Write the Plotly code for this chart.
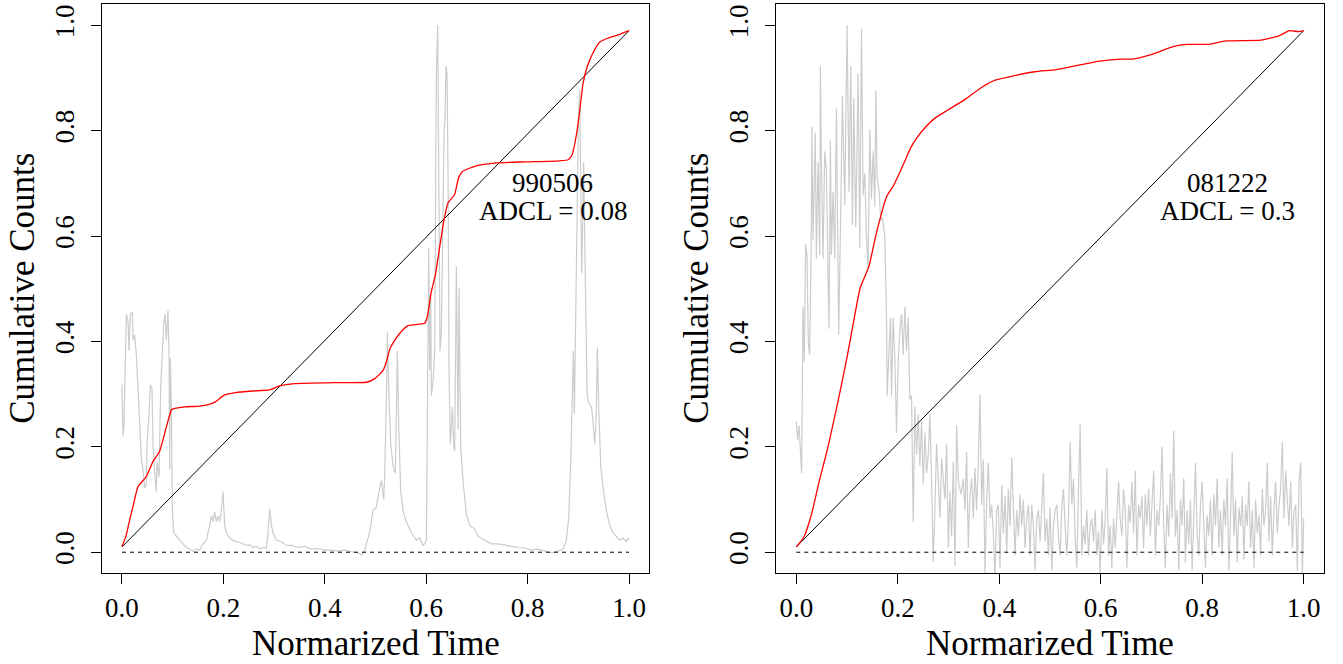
import plotly.graph_objects as go

# ---------------- data ----------------
TICK_VALS = [0.0, 0.2, 0.4, 0.6, 0.8, 1.0]
TICK_LABELS = ["0.0", "0.2", "0.4", "0.6", "0.8", "1.0"]

# Panel 1 : 990506 -- normalized light curve (gray)
lc1_t = [0.000, 0.002, 0.004, 0.0086, 0.0119, 0.0139, 0.0165, 0.0205, 0.0218, 0.025, 0.0283,
         0.0316, 0.0349, 0.0382, 0.0415, 0.0448, 0.0481, 0.0494, 0.0533, 0.056, 0.0592, 0.0612,
         0.0645, 0.0678, 0.0691, 0.073, 0.0763, 0.0796, 0.0822, 0.0849, 0.0875, 0.0908, 0.0928,
         0.0941, 0.0954, 0.0974, 0.0993, 0.102, 0.1072, 0.1138, 0.1204, 0.127, 0.1335, 0.1401,
         0.1467, 0.1533, 0.1598, 0.1664, 0.173, 0.1763, 0.1795, 0.1828, 0.1861, 0.1894, 0.1927,
         0.196, 0.1993, 0.2026, 0.2059, 0.2124, 0.219, 0.2256, 0.2322, 0.2387, 0.2453, 0.2519,
         0.2585, 0.2651, 0.2716, 0.2782, 0.2848, 0.2881, 0.2914, 0.2947, 0.298, 0.3045, 0.3144,
         0.3242,
         0.334, 0.3472, 0.3603, 0.3735, 0.3866, 0.3998, 0.4129, 0.4261, 0.4392, 0.4524, 0.4655,
         0.4721, 0.4787, 0.482, 0.4885, 0.4951, 0.5017, 0.5083, 0.5116, 0.5162, 0.5182, 0.5215,
         0.5234, 0.5261, 0.53, 0.5346, 0.5392, 0.5432, 0.5458, 0.5497, 0.5543, 0.5609, 0.5708,
         0.5807, 0.5872, 0.5938, 0.5971, 0.6004, 0.6024, 0.605, 0.6069, 0.6089, 0.6102, 0.6135,
         0.6168, 0.62, 0.6227, 0.6246, 0.6273, 0.6299, 0.6332, 0.6352, 0.6371, 0.6391, 0.6411,
         0.6431, 0.645, 0.6477, 0.6516, 0.6543, 0.6562, 0.6595, 0.6628, 0.6648, 0.668, 0.6726,
         0.6792, 0.6858,
         0.6956, 0.7022, 0.7153, 0.7285, 0.7416, 0.7548, 0.7679, 0.7811, 0.7942, 0.8074, 0.8205,
         0.8337, 0.8468, 0.86, 0.8699, 0.8765, 0.8811, 0.885, 0.8876, 0.8903, 0.8922, 0.8949,
         0.8975, 0.9001, 0.9027, 0.9047, 0.9067, 0.9087, 0.9106, 0.9126, 0.9146, 0.9172, 0.9205,
         0.9258, 0.9291, 0.9323, 0.935, 0.9376, 0.9402, 0.9442, 0.9488, 0.9554, 0.9619, 0.9685,
         0.9751, 0.9817, 0.9882, 0.9948, 0.9981, 1.0]
lc1_v = [0.318, 0.22, 0.241, 0.452, 0.438, 0.382, 0.452, 0.455, 0.403, 0.413, 0.375,
         0.311, 0.241, 0.178, 0.157, 0.122, 0.129, 0.206, 0.262, 0.318, 0.311, 0.206,
         0.15, 0.115, 0.171, 0.143, 0.311, 0.389, 0.431, 0.452, 0.403, 0.459, 0.375,
         0.157, 0.368, 0.276, 0.079, 0.037, 0.03, 0.023, 0.016, 0.009, 0.006, 0.002,
         0.006, 0.004, 0.016, 0.023, 0.051, 0.069, 0.058, 0.076, 0.058, 0.069, 0.058,
         0.079, 0.115, 0.051, 0.037, 0.027, 0.023, 0.02, 0.019, 0.016, 0.013, 0.014,
         0.009, 0.011, 0.006, 0.009, 0.008, 0.037, 0.083, 0.051, 0.037, 0.023, 0.02,
         0.013,
         0.013, 0.009, 0.011, 0.006, 0.007, 0.004, 0.004, 0.002, 0.004, 0.001, -0.001,
         -0.005, 0.002, 0.016, 0.037, 0.079, 0.086, 0.122, 0.136, 0.1, 0.15, 0.29,
         0.417, 0.311, 0.206, 0.164, 0.15, 0.382, 0.241, 0.115, 0.079, 0.058, 0.037,
         0.023, 0.027, 0.013, 0.016, 0.023, 0.276, 0.578, 0.346, 0.487, 0.297, 0.325,
         0.382, 0.909, 1.0, 0.782, 0.382, 0.417, 0.656, 0.796, 0.824, 0.923, 0.909,
         0.712, 0.346, 0.206, 0.276, 0.199, 0.192, 0.543, 0.234, 0.501, 0.199, 0.136,
         0.072, 0.051,
         0.044, 0.03, 0.023, 0.016, 0.016, 0.013, 0.011, 0.009, 0.008, 0.004, 0.006,
         0.002, -0.001, 0.002, 0.006, 0.023, 0.065, 0.171, 0.276, 0.382, 0.262, 0.487,
         0.684, 0.817, 0.877, 0.733, 0.529, 0.628, 0.74, 0.599, 0.417, 0.304, 0.283,
         0.276, 0.248, 0.206, 0.248, 0.389, 0.276, 0.164, 0.122, 0.079, 0.051, 0.037,
         0.03, 0.023, 0.027, 0.02, 0.027, 0.023]

# Panel 1 : cumulative counts (red)
cum1_t = [0.0, 0.0083, 0.015, 0.0217, 0.0316, 0.048, 0.061, 0.074, 0.0876, 0.0974, 0.101,
          0.124, 0.149, 0.17, 0.183, 0.2026, 0.224, 0.257, 0.29, 0.311, 0.34, 0.423, 0.482,
          0.498, 0.515, 0.521, 0.528, 0.535, 0.548, 0.564, 0.597, 0.602, 0.61, 0.618, 0.627,
          0.635, 0.643, 0.656, 0.664, 0.672, 0.697, 0.739, 0.797, 0.863, 0.88, 0.888, 0.896,
          0.903, 0.909, 0.917, 0.929, 0.942, 0.959, 0.979, 1.0]
cum1_v = [0.0104, 0.032, 0.061, 0.0866, 0.1245, 0.1435, 0.172, 0.191, 0.238, 0.27, 0.272,
          0.276, 0.277, 0.28, 0.285, 0.2985, 0.303, 0.306, 0.308, 0.3156, 0.32, 0.322, 0.3226,
          0.329, 0.345, 0.36, 0.385, 0.398, 0.4156, 0.43, 0.4345, 0.446, 0.494, 0.526, 0.582,
          0.63, 0.663, 0.679, 0.711, 0.723, 0.733, 0.739, 0.741, 0.743, 0.745, 0.755, 0.791,
          0.839, 0.888, 0.92, 0.948, 0.968, 0.976, 0.982, 0.99]

# Panel 2 : 081222 -- normalized light curve (gray)
lc2_t = [0.0, 0.0026, 0.0053, 0.0079, 0.0105, 0.0132, 0.0158, 0.0184, 0.0211, 0.0237, 0.0263,
         0.029, 0.0309, 0.0329, 0.0356, 0.0375, 0.0395, 0.0428, 0.0461, 0.0474, 0.0494, 0.0527,
         0.056, 0.0593, 0.0625, 0.0645, 0.0672, 0.0691, 0.0724, 0.0757, 0.079, 0.0836, 0.0869,
         0.0909, 0.0955, 0.1001, 0.104, 0.1073, 0.1106, 0.1132, 0.1172, 0.1218, 0.1251, 0.1284,
         0.1317, 0.135, 0.1383, 0.1415, 0.1448, 0.1481, 0.1514, 0.1547, 0.1567, 0.1593, 0.1633,
         0.1666, 0.1699, 0.1745, 0.1778, 0.1791, 0.183, 0.1857, 0.1876, 0.1909, 0.1942, 0.1975,
         0.2008, 0.2041, 0.2074, 0.2107, 0.214, 0.2173, 0.2206, 0.2238, 0.2271, 0.2304, 0.2337,
         0.237, 0.2403, 0.2436, 0.2469, 0.2502, 0.2535, 0.2568, 0.2601, 0.2633, 0.2666, 0.2699,
         0.2732, 0.2765, 0.2798, 0.2831, 0.2864, 0.2897, 0.293, 0.2963, 0.2996, 0.3028, 0.3061,
         0.3094, 0.3127, 0.316, 0.3193,
         0.3246, 0.3291, 0.3324, 0.3357, 0.339, 0.3423, 0.3456, 0.3489, 0.3521, 0.3554, 0.3587,
         0.362, 0.3653, 0.3686, 0.3719, 0.3752, 0.3785, 0.3818, 0.385, 0.3883, 0.3916, 0.3949,
         0.3982, 0.4015, 0.4048, 0.4081, 0.4114, 0.4147, 0.4179, 0.4212, 0.4245, 0.4278, 0.4311,
         0.4344, 0.4377, 0.441, 0.4443, 0.4476, 0.4508, 0.4541, 0.4574, 0.4607, 0.464, 0.4673,
         0.4706, 0.4739, 0.4772, 0.4805, 0.4837, 0.487, 0.4903, 0.4936, 0.4969, 0.5002, 0.5035,
         0.5068, 0.5101, 0.5134, 0.5166, 0.5199, 0.5232, 0.5265, 0.5298, 0.5331, 0.5364, 0.5397,
         0.543, 0.5463, 0.5495, 0.5528, 0.5561, 0.5594, 0.5627, 0.566, 0.5693, 0.5726, 0.5759,
         0.5792, 0.5824, 0.5857, 0.589, 0.5923, 0.5956, 0.5989, 0.6022, 0.6055, 0.6088, 0.6121,
         0.6153, 0.6186, 0.6219, 0.6252, 0.6285, 0.6318, 0.6351, 0.6384, 0.6417, 0.645, 0.6482,
         0.6515, 0.6548, 0.6581, 0.6614, 0.6647, 0.668, 0.6713, 0.6746, 0.6779, 0.6811, 0.6844,
         0.6877, 0.691, 0.6943, 0.6977, 0.701,
         0.7044, 0.7077, 0.711, 0.7143, 0.7176, 0.7209, 0.7241, 0.7274, 0.7307, 0.734, 0.7373,
         0.7406, 0.7439, 0.7472, 0.7505, 0.7538, 0.7571, 0.7604, 0.7636, 0.7669, 0.7702, 0.7735,
         0.7768, 0.7801, 0.7834, 0.7867, 0.79, 0.7933, 0.7966, 0.7999, 0.8031, 0.8064, 0.8097,
         0.813, 0.8163, 0.8196, 0.8229, 0.8262, 0.8295, 0.8328, 0.8361, 0.8394, 0.8426, 0.8459,
         0.8492, 0.8525, 0.8558, 0.8591, 0.8624, 0.8657, 0.869, 0.8723, 0.8756, 0.8789, 0.8821,
         0.8854, 0.8887, 0.892, 0.8953, 0.8986, 0.9019, 0.9052, 0.9085, 0.9118, 0.9151, 0.9184,
         0.9216, 0.9249, 0.9282, 0.9315, 0.9348, 0.9381, 0.9414, 0.9447, 0.948, 0.9513, 0.9546,
         0.9579, 0.9611, 0.9644, 0.9677, 0.971, 0.9743, 0.9776, 0.9809, 0.9842, 0.9875, 0.9908,
         0.9941, 0.9974, 1.0]
lc2_v = [0.248, 0.213, 0.241, 0.185, 0.15, 0.466, 0.361, 0.585, 0.564, 0.396, 0.375,
         0.557, 0.807, 0.592, 0.712, 0.796, 0.557, 0.74, 0.564, 0.923, 0.747, 0.557,
         0.761, 0.726, 0.529, 0.424, 0.782, 0.564, 0.684, 0.557, 0.842, 0.413, 0.606,
         0.866, 0.659, 1.0, 0.684, 0.923, 0.621, 0.863, 0.617, 0.909, 0.578, 0.993,
         0.677, 0.719, 0.599, 0.536, 0.803, 0.67, 0.761, 0.656, 0.877, 0.712, 0.684,
         0.628, 0.635, 0.599, 0.445, 0.297, 0.389, 0.445, 0.297, 0.445, 0.368, 0.227,
         0.361, 0.424, 0.452, 0.375, 0.466, 0.382, 0.445, 0.29, 0.297, 0.058, 0.276,
         0.185, 0.262, 0.164, 0.248, 0.129, 0.227, 0.15, 0.185, 0.262, 0.136, -0.019,
         0.086, 0.206, 0.136, 0.065, 0.178, 0.129, 0.1, 0.206, 0.009, 0.115, 0.03,
         0.171, -0.026, 0.241, 0.136,
         0.11, 0.14, 0.08, 0.19, 0.008, 0.11, 0.14, 0.064, 0.16, 0.08, 0.17,
         0.3, 0.09, 0.176, -0.04, 0.1, 0.17, 0.064, 0.09, 0.036, -0.05, 0.08,
         0.09, -0.03, 0.127, 0.036, 0.106, 0.0, 0.12, 0.05, 0.18, 0.064, -0.006,
         0.08, 0.03, 0.11, 0.05, 0.1, 0.008, 0.064, 0.09, -0.006, 0.09, 0.05,
         -0.035, 0.064, 0.08, 0.02, 0.09, 0.15, 0.02, 0.064, -0.006, 0.085, -0.035,
         0.05, 0.08, 0.09, 0.03, -0.006, 0.085, 0.12, 0.05, -0.006, 0.064, 0.21,
         0.09, 0.14, 0.03, -0.03, 0.12, 0.243, -0.006, 0.05, 0.015, 0.08, -0.006,
         0.05, 0.064, 0.02, 0.08, -0.006, 0.04, -0.04, 0.08, 0.015, 0.064, 0.16,
         -0.006, 0.05, -0.03, 0.064, 0.008, 0.08, 0.134, 0.064, 0.03, 0.12, 0.08,
         -0.03, 0.09, 0.056, 0.134, 0.036, 0.155, -0.006, 0.09, 0.064, 0.106, 0.008,
         0.11, 0.05, 0.12, 0.03, 0.09,
         0.155, -0.006, 0.08, 0.05, 0.106, 0.2, 0.05, -0.03, 0.09, 0.03, 0.15,
         0.064, 0.23, 0.03, 0.08, -0.035, 0.1, 0.05, 0.14, -0.02, 0.08, 0.015,
         0.1, -0.035, 0.064, 0.17, 0.03, -0.006, 0.09, 0.134, 0.05, -0.03, 0.07,
         0.03, 0.1, -0.006, 0.11, 0.05, 0.14, 0.008, 0.08, -0.006, 0.1, 0.05,
         0.14, -0.035, 0.064, 0.19, 0.03, 0.1, -0.02, 0.085, 0.05, 0.106, -0.014,
         0.09, 0.05, 0.134, 0.008, 0.08, -0.03, 0.1, 0.036, 0.07, -0.006, 0.12,
         0.05, 0.08, 0.17, 0.02, 0.106, -0.006, 0.08, 0.134, 0.036, 0.09, 0.12,
         0.21, 0.064, 0.155, 0.1, 0.05, 0.134, 0.008, 0.08, 0.09, -0.035, 0.134,
         0.17, -0.04, 0.064]

# Panel 2 : cumulative counts (red)
cum2_t = [0.0, 0.0146, 0.03, 0.0446, 0.0618, 0.083, 0.1, 0.113, 0.126, 0.143, 0.156, 0.169,
          0.178, 0.191, 0.203, 0.216, 0.225, 0.238, 0.255, 0.272, 0.298, 0.332, 0.3665, 0.392,
          0.427, 0.47, 0.5125, 0.555, 0.598, 0.641, 0.662, 0.701, 0.744, 0.77, 0.813, 0.847,
          0.916, 0.951, 0.972, 0.9897, 1.0]
cum2_v = [0.0104, 0.028, 0.072, 0.1325, 0.197, 0.29, 0.37, 0.438, 0.502, 0.542, 0.598, 0.647,
          0.675, 0.695, 0.719, 0.747, 0.767, 0.787, 0.807, 0.823, 0.839, 0.859, 0.883, 0.896,
          0.904, 0.912, 0.916, 0.924, 0.932, 0.936, 0.936, 0.945, 0.96, 0.964, 0.964, 0.9705,
          0.972, 0.98, 0.99, 0.988, 0.99]

# reference lines: uniform cumulative (diagonal) and zero level
diag_t = [0.0, 1.0]
diag_v = [0.01, 0.99]
zero_t = [0.0, 1.0]
zero_v = [0.0, 0.0]

burst_ids = ["990506", "081222"]
adcl_labels = ["ADCL = 0.08", "ADCL = 0.3"]
x_title = "Normarized Time"
y_title = "Cumulative Counts"

# ---------------- figure ----------------
W, H = 1343, 664
FONT = "Liberation Serif"
GRAY = "#cccccc"

fig = go.Figure()

panels = [
    ("x", "y", lc1_t, lc1_v, cum1_t, cum1_v),
    ("x2", "y2", lc2_t, lc2_v, cum2_t, cum2_v),
]
for xa, ya, lt, lv, ct, cv in panels:
    fig.add_trace(go.Scatter(x=lt, y=lv, mode="lines", xaxis=xa, yaxis=ya,
                             line=dict(color=GRAY, width=1.2), hoverinfo="skip"))
    fig.add_trace(go.Scatter(x=zero_t, y=zero_v, mode="lines", xaxis=xa, yaxis=ya,
                             line=dict(color="black", width=1, dash="4px,4px")))
    fig.add_trace(go.Scatter(x=diag_t, y=diag_v, mode="lines", xaxis=xa, yaxis=ya,
                             line=dict(color="black", width=1)))
    fig.add_trace(go.Scatter(x=ct, y=cv, mode="lines", xaxis=xa, yaxis=ya,
                             line=dict(color="#ff0000", width=1.3, shape="spline", smoothing=0.5)))

# domains (pixel geometry of the original)
XD1 = [101.7 / W, 649.3 / W]
XD2 = [776.0 / W, 1324.0 / W]
YD = [(H - 573.3) / H, (H - 4.3) / H]

ax_common = dict(range=[-0.04, 1.04], showgrid=False, zeroline=False,
                 showline=True, mirror=True, linecolor="black", linewidth=1,
                 ticks="outside", ticklen=10, tickwidth=1, tickcolor="black",
                 tickmode="array", tickvals=TICK_VALS, ticktext=TICK_LABELS,
                 tickfont=dict(family=FONT, size=27, color="black"),
                 fixedrange=True)

fig.update_layout(
    width=W, height=H,
    margin=dict(l=0, r=0, t=0, b=0),
    paper_bgcolor="white", plot_bgcolor="white",
    showlegend=False,
    xaxis=dict(domain=XD1, anchor="y", ticklabelstandoff=0, **ax_common),
    yaxis=dict(domain=YD, anchor="x", tickangle=-90, ticklabelstandoff=6, **ax_common),
    xaxis2=dict(domain=XD2, anchor="y2", ticklabelstandoff=0, **ax_common),
    yaxis2=dict(domain=YD, anchor="x2", tickangle=-90, ticklabelstandoff=6, **ax_common),
)

ann = []
for i, (xa, ya) in enumerate([("x", "y"), ("x2", "y2")]):
    ann.append(dict(x=0.85, y=0.7, xref=xa, yref=ya, text=burst_ids[i], showarrow=False,
                    font=dict(family=FONT, size=27, color="black"),
                    xanchor="center", yanchor="middle"))
    ann.append(dict(x=0.85, y=0.648, xref=xa, yref=ya, text=adcl_labels[i], showarrow=False,
                    font=dict(family=FONT, size=27, color="black"),
                    xanchor="center", yanchor="middle"))

for xd, ytx in [(XD1, 23.0), (XD2, 697.0)]:
    ann.append(dict(x=(xd[0] + xd[1]) / 2, y=(H - 643) / H, xref="paper", yref="paper",
                    text=x_title, showarrow=False,
                    font=dict(family=FONT, size=35, color="black"),
                    xanchor="center", yanchor="middle"))
    ann.append(dict(x=ytx / W, y=(H - 288.8) / H, xref="paper", yref="paper",
                    text=y_title, showarrow=False, textangle=-90,
                    font=dict(family=FONT, size=35, color="black"),
                    xanchor="center", yanchor="middle"))
fig.update_layout(annotations=ann)

fig.write_html("out.html")
